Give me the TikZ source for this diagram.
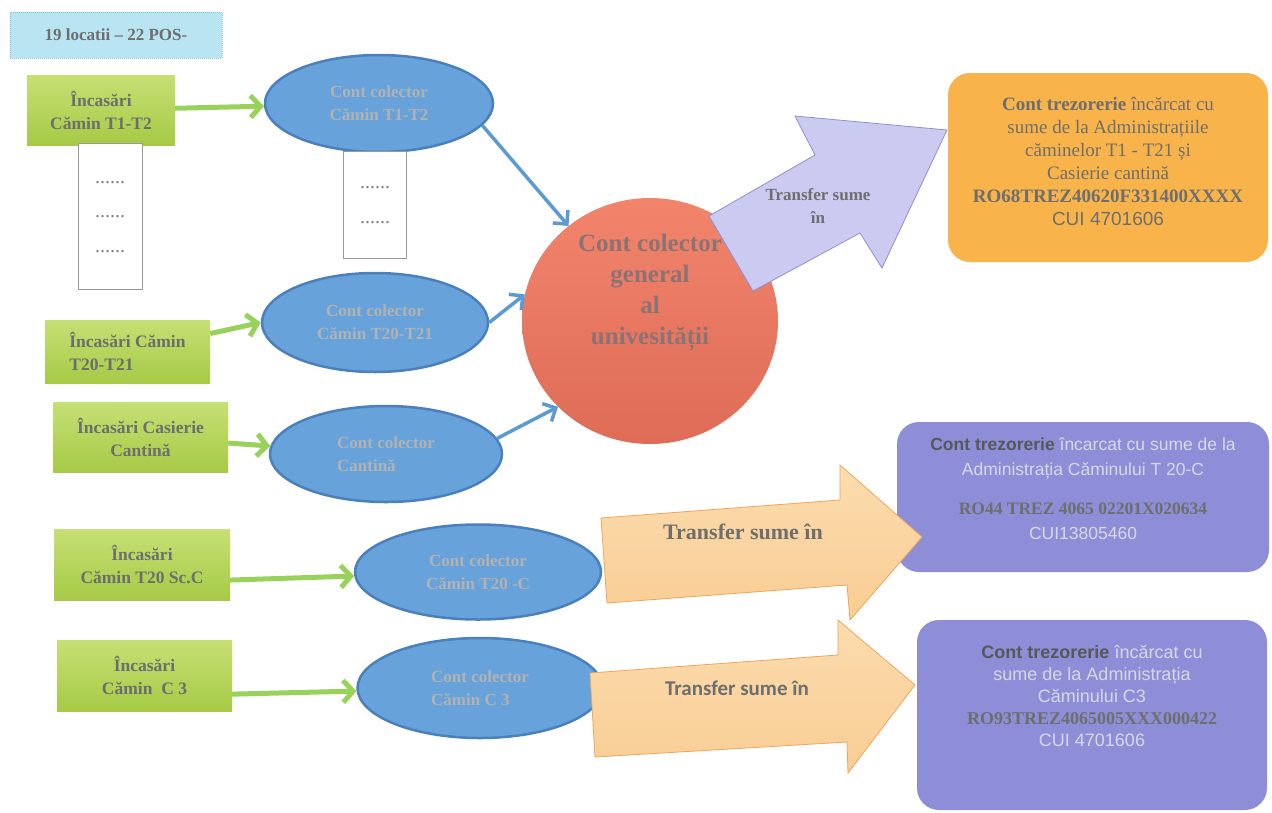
\documentclass[tikz,border=0pt]{standalone}
\usepackage{fontspec}
\setmainfont{Liberation Serif}
\setsansfont{Liberation Sans}
\newfontfamily\calibrifont{Carlito}
\usetikzlibrary{positioning,shapes.geometric,arrows.meta}

\definecolor{posfill}{HTML}{B9E5F3}
\definecolor{posdraw}{HTML}{7CC9D8}
\definecolor{inctop}{HTML}{C6E074}
\definecolor{incbot}{HTML}{A6CA46}
\definecolor{ellfill}{HTML}{67A3DA}
\definecolor{elldraw}{HTML}{4A80BD}
\definecolor{elltext}{HTML}{B2B2B2}
\definecolor{gentop}{HTML}{F2846C}
\definecolor{genbot}{HTML}{DE6C57}
\definecolor{arrgreen}{HTML}{98D25A}
\definecolor{arrblue}{HTML}{5B9BD5}
\definecolor{trorange}{HTML}{F8B44B}
\definecolor{trpurple}{HTML}{8E8ED8}
\definecolor{lavfill}{HTML}{CBCBF2}
\definecolor{lavdraw}{HTML}{8F8FD0}
\definecolor{peachtop}{HTML}{FCDCAE}
\definecolor{peachbot}{HTML}{F8CD94}
\definecolor{peachdraw}{HTML}{F0A45C}
\definecolor{txtgray}{HTML}{6E6E6E}
\definecolor{txtlight}{HTML}{D8D8E4}

\tikzset{
  posbox/.style={rectangle, fill=posfill, draw=posdraw, densely dotted, line width=1pt,
    minimum width=212pt, minimum height=46pt, text=txtgray,
    font=\fontsize{17}{20}\selectfont\bfseries},
  incasare/.style={rectangle, top color=inctop, bottom color=incbot, text=txtgray,
    align=center, font=\fontsize{17.5}{23}\selectfont\bfseries},
  colector/.style={ellipse, fill=ellfill, draw=elldraw, line width=2.5pt, inner sep=0pt,
    text=elltext, align=center, font=\fontsize{17}{23}\selectfont\bfseries},
  dotbox/.style={rectangle, draw=gray!80, line width=1pt, fill=white, text=gray,
    align=center, font=\fontsize{20}{34.5}\selectfont},
  greenline/.style={draw=arrgreen, line width=5pt, -{Straight Barb[length=10pt,width=22pt]}},
  blueline/.style={draw=arrblue, line width=3.5pt, -{Straight Barb[length=10pt,width=20pt]}},
  trbox/.style={rectangle, rounded corners=22pt},
  trtext/.style={align=center},
  transferup/.style={fill=lavfill, draw=lavdraw, line width=0.8pt},
  transferpeach/.style={top color=peachtop, bottom color=peachbot, draw=peachdraw, line width=0.8pt},
}

\begin{document}
\begin{tikzpicture}[x=1pt,y=-1pt]
\useasboundingbox[fill=white] (0,0) rectangle (1272,812);

\node[posbox] (pos) at (116,35) {19 locatii – 22 POS-};

\node[incasare, minimum width=148pt, minimum height=70pt] (inc1) at (101,110) {Încasări\\Cămin T1-T2};
\node[incasare, minimum width=165pt, minimum height=63pt, align=left] (inc2) at (127.5,351.5) {Încasări Cămin\\T20-T21};
\node[incasare, minimum width=175pt, minimum height=70pt] (inc3) at (140.5,437) {Încasări Casierie\\Cantină};
\node[incasare, minimum width=176pt, minimum height=71pt] (inc4) at (142,564.5) {Încasări\\Cămin T20 Sc.C};
\node[incasare, minimum width=175pt, minimum height=71pt] (inc5) at (144.5,675.5) {Încasări\\Cămin~ C 3};

\node[dotbox, minimum width=64pt, minimum height=146pt, below=-2pt of inc1, xshift=9pt] (dots1) {......\\......\\......};

\node[colector, minimum width=228pt, minimum height=97pt] (cc1) at (379,103.5) {Cont colector\\Cămin T1-T2};
\node[dotbox, minimum width=63pt, minimum height=107pt, below=-2pt of cc1, xshift=-4pt] (dots2) {......\\......};
\node[colector, minimum width=226pt, minimum height=99pt] (cc2) at (375,322.5) {Cont colector\\Cămin T20-T21};
\node[colector, minimum width=232pt, minimum height=96pt, align=left] (cc3) at (386,454) {Cont colector\\Cantină};
\node[colector, minimum width=246pt, minimum height=95pt] (cc4) at (478,572) {Cont colector\\Cămin T20 -C};
\node[colector, minimum width=245pt, minimum height=100pt, align=left] (cc5) at (480,688) {Cont colector\\Cămin C 3};

\node[ellipse, top color=gentop, bottom color=genbot, minimum width=256pt, minimum height=246pt] (gen) at (650,321) {};
\node[align=center, text=gray!90!red, font=\fontsize{25}{31}\selectfont\bfseries] (gentext) at ([yshift=28pt]gen.center) {Cont colector\\general\\al\\univesității};

\draw[greenline] (inc1) -- (cc1);
\draw[greenline] (inc2) -- (cc2.west);
\draw[greenline] (inc3) -- (cc3);
\draw[greenline] (inc4.-10) -- (cc4);
\draw[greenline] (inc5.-12) -- (cc5);

\draw[blueline] (cc1.-12) -- (gen);
\draw[blueline] (cc2.east) -- (gen.168);
\draw[blueline] (cc3.8) -- (gen.223);

\node[trbox, fill=trorange, minimum width=320pt, minimum height=189pt] (tr1) at (1108,167.5) {};
\node[trtext, text=txtgray, font=\fontsize{19}{23}\selectfont] (tr1text) at ([yshift=6pt]tr1.center)
  {{\bfseries Cont trezorerie} încărcat cu\\sume de la Administrațiile\\căminelor T1 - T21 și\\Casierie cantină\\{\bfseries RO68TREZ40620F331400XXXX}\\{\sffamily CUI 4701606}};
\node[trbox, fill=trpurple, minimum width=372pt, minimum height=150pt] (tr2) at (1083,497) {};
\node[trtext, text=txtlight, font=\sffamily\fontsize{17.5}{25}\selectfont] (tr2text) at ([yshift=8pt]tr2.center)
  {{\bfseries\color{txtgray!80!black}Cont trezorerie} încarcat cu sume de la\\Administrația Căminului T 20-C\\[14pt]{\rmfamily\bfseries\color{txtgray}RO44 TREZ 4065 02201X020634}\\CUI13805460};
\node[trbox, fill=trpurple, minimum width=350pt, minimum height=190pt] (tr3) at (1092,715) {};
\node[trtext, text=txtlight, font=\sffamily\fontsize{18}{22}\selectfont] (tr3text) at ([yshift=19pt]tr3.center)
  {{\bfseries\color{txtgray!80!black}Cont trezorerie} încărcat cu\\sume de la Administrația\\Căminului C3\\{\rmfamily\bfseries\color{txtgray}RO93TREZ4065005XXX000422}\\CUI 4701606};

\draw[transferup] (709,216) -- (815,155) -- (795,116) -- (947,130) -- (882,268) -- (860,233) -- (753,291) -- cycle;
\node[align=center, text=txtgray, font=\fontsize{17}{23}\selectfont\bfseries] (tlab1) at (818,206) {Transfer sume\\în};

\draw[transferpeach] (601,518) -- (840,500) -- (840,465) -- (922,537) -- (850,620) -- (847,585) -- (607,603) -- cycle;
\node[text=txtgray, font=\fontsize{22}{26}\selectfont\bfseries] (tlab2) at (743,532) {Transfer sume în};

\draw[transferpeach] (590,673) -- (838,655) -- (838,620) -- (915,685) -- (848,773) -- (847,742) -- (595,757) -- cycle;
\node[text=txtgray, font=\calibrifont\fontsize{21}{25}\selectfont\bfseries] (tlab3) at (737,688) {Transfer sume în};

\end{tikzpicture}
\end{document}
